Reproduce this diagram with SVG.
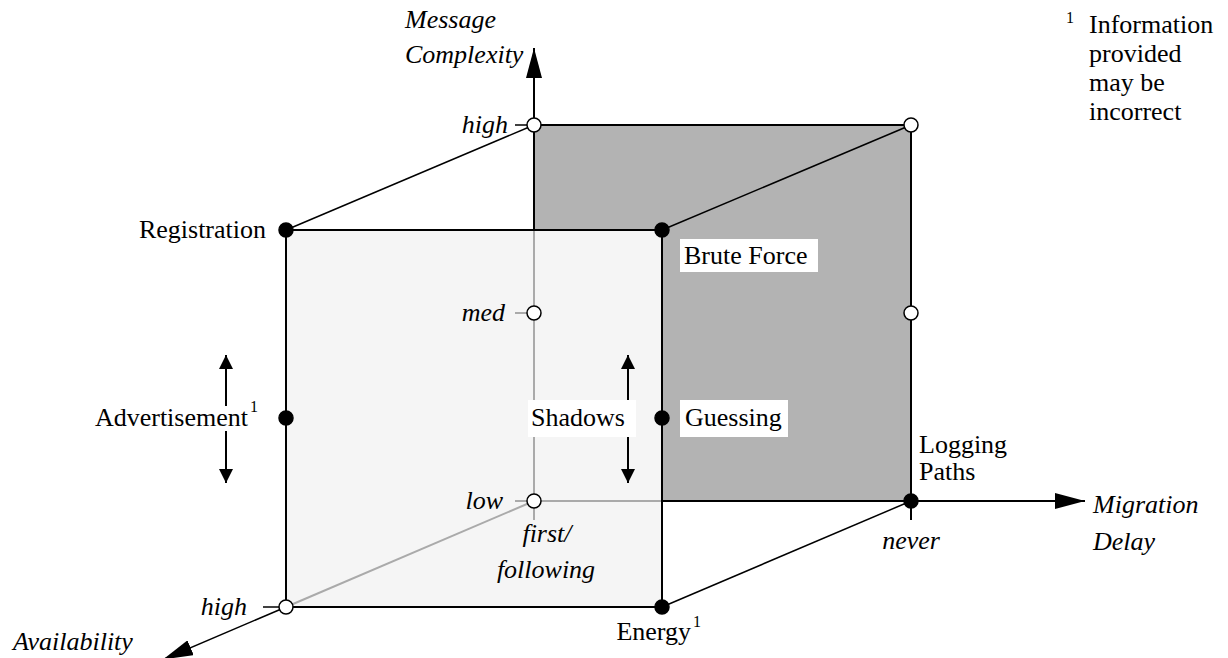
<svg xmlns="http://www.w3.org/2000/svg" width="1228" height="658" viewBox="0 0 1228 658">
<style>
text{font-family:"Liberation Serif","Times New Roman","DejaVu Serif",serif;font-size:26px;fill:#000}
.it{font-style:italic}
.sup{font-size:16px}
.blk{stroke:#000;stroke-width:2;fill:none}
.thin{stroke:#000;stroke-width:1.5;fill:none}
.gry{stroke:#aaa;stroke-width:2;fill:none}
.open{fill:#fff;stroke:#000;stroke-width:1.5}
.full{fill:#000;stroke:#000;stroke-width:1.5}
.lab{fill:#fff}
</style>
<defs>
<marker id="big" markerUnits="userSpaceOnUse" markerWidth="30" markerHeight="16" refX="30" refY="8" orient="auto">
<path d="M0,0 L30,8 L0,16 z" fill="#000"/>
</marker>
<marker id="sm" markerUnits="userSpaceOnUse" markerWidth="14" markerHeight="14" refX="14" refY="7" orient="auto">
<path d="M0,0 L14,7 L0,14 z" fill="#000"/>
</marker>
</defs>
<rect width="1228" height="658" fill="#fff"/>
<g id="faces">
<rect x="534" y="125" width="377" height="376" fill="#b3b3b3"/>
<rect x="286" y="230" width="376" height="377" fill="#f5f5f5"/>
</g>
<g id="connectors">
<line class="gry" x1="534" y1="230" x2="534" y2="520"/>
<line class="gry" x1="534" y1="501" x2="662" y2="501"/>
<line class="gry" x1="534" y1="501" x2="286" y2="607"/>
<line class="gry" x1="515" y1="313" x2="527" y2="313"/>
<line class="gry" x1="515" y1="501" x2="527" y2="501"/>
<line class="blk" x1="534" y1="230" x2="534" y2="48" marker-end="url(#big)"/>
<line class="blk" x1="662" y1="501" x2="1085" y2="501" marker-end="url(#big)"/>
<line class="thin" x1="286" y1="607" x2="163" y2="659.5" marker-end="url(#big)"/>
<line class="blk" x1="534" y1="125" x2="911" y2="125"/>
<line class="blk" x1="911" y1="125" x2="911" y2="520"/>
<rect class="blk" x="286" y="230" width="376" height="377"/>
<line class="thin" x1="286" y1="230" x2="534" y2="125"/>
<line class="thin" x1="662" y1="230" x2="911" y2="125"/>
<line class="thin" x1="662" y1="607" x2="911" y2="501"/>
<line class="thin" x1="515" y1="125" x2="527" y2="125"/>
<line class="thin" x1="263" y1="607" x2="279" y2="607"/>
<line class="blk" x1="226" y1="418" x2="226" y2="355" marker-end="url(#sm)"/>
<line class="blk" x1="226" y1="418" x2="226" y2="483" marker-end="url(#sm)"/>
<line class="blk" x1="628" y1="418" x2="628" y2="355" marker-end="url(#sm)"/>
<line class="blk" x1="628" y1="418" x2="628" y2="483" marker-end="url(#sm)"/>
</g>
<g id="axis-labels">
<text class="it" x="405" y="28">Message</text>
<text class="it" x="405" y="63">Complexity</text>
<text class="it" x="1093" y="513">Migration</text>
<text class="it" x="1093" y="550">Delay</text>
<text class="it" x="13" y="650">Availability</text>
<text class="it" x="508" y="133" text-anchor="end">high</text>
<text class="it" x="505" y="321" text-anchor="end">med</text>
<text class="it" x="503" y="509" text-anchor="end">low</text>
<text class="it" x="547" y="542" text-anchor="middle">first/</text>
<text class="it" x="546" y="578" text-anchor="middle">following</text>
<text class="it" x="247" y="615" text-anchor="end">high</text>
<text class="it" x="911" y="549" text-anchor="middle">never</text>
</g>
<g id="n-high"><circle class="open" cx="534" cy="125" r="7"/></g>
<g id="n-backtop"><circle class="open" cx="911" cy="125" r="7"/></g>
<g id="n-med"><circle class="open" cx="534" cy="313" r="7"/></g>
<g id="n-backmid"><circle class="open" cx="911" cy="313" r="7"/></g>
<g id="n-low"><circle class="open" cx="534" cy="501" r="7"/></g>
<g id="n-highavail"><circle class="open" cx="286" cy="607" r="7"/></g>
<g id="n-registration"><circle class="full" cx="286" cy="230" r="7"/><text x="266" y="238" text-anchor="end">Registration</text></g>
<g id="n-bruteforce"><circle class="full" cx="662" cy="230" r="7"/><rect class="lab" x="680" y="239" width="138" height="33"/><text x="684" y="264">Brute Force</text></g>
<g id="n-advertisement"><circle class="full" cx="286" cy="418" r="7"/><rect class="lab" x="99" y="406" width="168" height="25"/><text x="248" y="426" text-anchor="end">Advertisement</text><text class="sup" x="250" y="412">1</text></g>
<g id="n-guessing"><circle class="full" cx="662" cy="418" r="7"/><rect class="lab" x="680" y="400" width="108" height="37"/><text x="685" y="426">Guessing</text></g>
<g id="n-shadows"><rect class="lab" x="528" y="400" width="108" height="37"/><text x="531" y="426">Shadows</text></g>
<g id="n-logging"><circle class="full" cx="911" cy="501" r="7"/><text x="919" y="453">Logging</text><text x="919" y="480">Paths</text></g>
<g id="n-energy"><circle class="full" cx="662" cy="607" r="7"/><text x="691" y="640" text-anchor="end">Energy</text><text class="sup" x="693" y="627">1</text></g>
<g id="footnote">
<text class="sup" x="1066" y="23">1</text>
<text x="1089" y="33">Information</text>
<text x="1089" y="62">provided</text>
<text x="1089" y="91">may be</text>
<text x="1089" y="120">incorrect</text>
</g>
</svg>
